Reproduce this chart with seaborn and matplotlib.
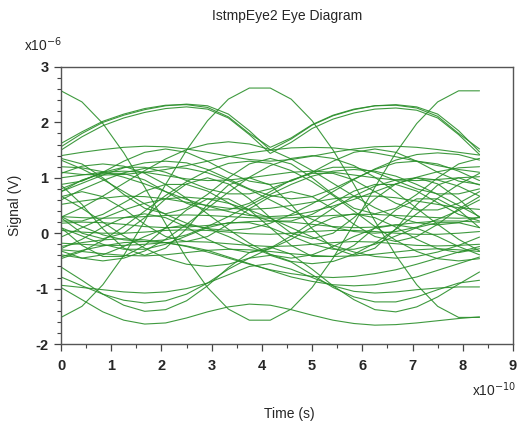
import matplotlib
matplotlib.use("Agg")
import matplotlib.pyplot as plt
import seaborn as sns
import pandas as pd

# time axis (units of 1e-10 s)
time = [0.0, 0.417, 0.833, 1.25, 1.667, 2.083, 2.5, 2.917, 3.333, 3.75, 4.167,
        4.583, 5.0, 5.417, 5.833, 6.25, 6.667, 7.083, 7.5, 7.917, 8.333]

# traces (units of 1e-6 V)
T1 = [2.57, 2.37, 1.98, 1.45, 0.83, 0.17, -0.45, -0.98, -1.37, -1.57, -1.57, -1.37, -0.98, -0.45, 0.17, 0.83, 1.45, 1.98, 2.37, 2.57, 2.57]
T2 = [-1.52, -1.32, -0.93, -0.40, 0.22, 0.88, 1.50, 2.03, 2.42, 2.62, 2.62, 2.42, 2.03, 1.50, 0.88, 0.22, -0.40, -0.93, -1.32, -1.52, -1.52]
B1 = [1.56, 1.80, 2.00, 2.13, 2.23, 2.30, 2.33, 2.30, 2.15, 1.85, 1.50, 1.70, 1.95, 2.12, 2.23, 2.30, 2.32, 2.28, 2.15, 1.85, 1.47]
B2 = [1.50, 1.74, 1.94, 2.08, 2.18, 2.25, 2.28, 2.24, 2.08, 1.78, 1.44, 1.64, 1.89, 2.06, 2.17, 2.24, 2.26, 2.22, 2.08, 1.78, 1.42]
B3 = [1.62, 1.83, 2.02, 2.15, 2.25, 2.31, 2.32, 2.27, 2.10, 1.80, 1.55, 1.72, 1.96, 2.13, 2.24, 2.30, 2.31, 2.26, 2.11, 1.80, 1.52]
C1 = [1.40, 1.46, 1.51, 1.55, 1.57, 1.56, 1.52, 1.46, 1.39, 1.33, 1.30, 1.33, 1.39, 1.46, 1.52, 1.56, 1.57, 1.55, 1.51, 1.46, 1.41]
C2 = [0.88, 0.94, 1.10, 1.30, 1.46, 1.52, 1.46, 1.30, 1.10, 0.94, 0.88, 0.94, 1.10, 1.30, 1.46, 1.52, 1.46, 1.30, 1.10, 0.94, 0.88]
C3 = [0.29, 0.46, 0.67, 0.90, 1.13, 1.34, 1.51, 1.61, 1.65, 1.61, 1.51, 1.34, 1.13, 0.90, 0.67, 0.46, 0.29, 0.19, 0.15, 0.19, 0.29]
C4 = [1.32, 1.16, 0.97, 0.75, 0.53, 0.34, 0.18, 0.08, 0.05, 0.08, 0.18, 0.34, 0.53, 0.75, 0.97, 1.16, 1.32, 1.42, 1.45, 1.42, 1.32]
L1 = [-0.98, -1.20, -1.42, -1.57, -1.64, -1.62, -1.53, -1.42, -1.33, -1.28, -1.30, -1.38, -1.48, -1.57, -1.63, -1.66, -1.65, -1.62, -1.58, -1.54, -1.51]
L2 = [-0.61, -0.85, -1.10, -1.30, -1.41, -1.38, -1.22, -0.95, -0.62, -0.35, -0.25, -0.38, -0.65, -0.95, -1.20, -1.38, -1.42, -1.33, -1.15, -0.92, -0.70]
L3 = [-0.79, -0.95, -1.10, -1.21, -1.26, -1.22, -1.10, -0.90, -0.65, -0.45, -0.40, -0.52, -0.75, -0.98, -1.15, -1.24, -1.24, -1.15, -1.02, -0.90, -0.85]
L4 = [-0.94, -0.98, -1.02, -1.06, -1.08, -1.06, -1.00, -0.90, -0.75, -0.60, -0.55, -0.65, -0.80, -0.95, -1.05, -1.08, -1.06, -1.02, -0.99, -0.97, -0.97]
Ma = [1.00, 1.05, 1.10, 1.12, 1.10, 1.04, 0.98, 0.95, 0.96, 1.00, 1.05, 1.10, 1.12, 1.10, 1.05, 1.00, 0.96, 0.95, 0.97, 1.00, 1.02]
Mb = [0.75, 0.90, 1.05, 1.18, 1.27, 1.30, 1.27, 1.15, 0.98, 0.80, 0.68, 0.62, 0.66, 0.80, 0.98, 1.15, 1.27, 1.30, 1.25, 1.12, 0.95]
Mc = [-0.32, -0.45, -0.50, -0.45, -0.32, -0.11, 0.16, 0.45, 0.74, 1.01, 1.22, 1.35, 1.40, 1.35, 1.22, 1.01, 0.74, 0.45, 0.16, -0.11, -0.32]
Md = [1.08, 1.21, 1.25, 1.21, 1.08, 0.88, 0.63, 0.35, 0.07, -0.18, -0.38, -0.51, -0.55, -0.51, -0.38, -0.18, 0.07, 0.35, 0.63, 0.88, 1.08]
Me = [0.66, 0.75, 0.66, 0.44, 0.16, -0.06, -0.15, -0.06, 0.16, 0.44, 0.66, 0.75, 0.66, 0.44, 0.16, -0.06, -0.15, -0.06, 0.16, 0.44, 0.66]
Mf = [0.28, 0.00, -0.10, 0.00, 0.28, 0.62, 0.89, 1.00, 0.89, 0.62, 0.28, 0.00, -0.10, 0.00, 0.28, 0.62, 0.89, 1.00, 0.89, 0.62, 0.28]
Mg = [-0.18, -0.20, -0.22, -0.22, -0.20, -0.17, -0.15, -0.16, -0.19, -0.22, -0.24, -0.23, -0.20, -0.17, -0.15, -0.16, -0.19, -0.22, -0.23, -0.22, -0.20]
Mh = [-0.30, -0.33, -0.37, -0.40, -0.41, -0.39, -0.35, -0.31, -0.29, -0.30, -0.33, -0.37, -0.40, -0.42, -0.41, -0.38, -0.34, -0.30, -0.28, -0.30, -0.33]
Mi = [-0.28, -0.11, 0.11, 0.28, 0.35, 0.28, 0.11, -0.11, -0.28, -0.35, -0.28, -0.11, 0.11, 0.28, 0.35, 0.28, 0.11, -0.11, -0.28, -0.35, -0.28]
Mj = [0.67, 0.45, 0.20, -0.05, -0.27, -0.45, -0.56, -0.60, -0.56, -0.45, -0.27, -0.05, 0.20, 0.45, 0.67, 0.85, 0.96, 1.00, 0.96, 0.85, 0.67]
Mk = [0.52, 0.58, 0.63, 0.67, 0.66, 0.62, 0.56, 0.50, 0.45, 0.43, 0.45, 0.50, 0.56, 0.62, 0.66, 0.67, 0.64, 0.58, 0.52, 0.46, 0.43]
Ml = [0.87, 0.52, 0.08, -0.27, -0.40, -0.27, 0.08, 0.52, 0.87, 1.00, 0.87, 0.52, 0.08, -0.27, -0.40, -0.27, 0.08, 0.52, 0.87, 1.00, 0.87]
Mm = [0.75, 0.96, 1.08, 1.08, 0.96, 0.75, 0.54, 0.42, 0.42, 0.54, 0.75, 0.96, 1.08, 1.08, 0.96, 0.75, 0.54, 0.42, 0.42, 0.54, 0.75]
Mn = [0.10, -0.22, -0.42, -0.42, -0.22, 0.10, 0.42, 0.62, 0.62, 0.42, 0.10, -0.22, -0.42, -0.42, -0.22, 0.10, 0.42, 0.62, 0.62, 0.42, 0.10]
Mo = [0.60, 0.79, 0.95, 1.09, 1.17, 1.20, 1.17, 1.09, 0.95, 0.79, 0.60, 0.41, 0.25, 0.11, 0.03, 0.00, 0.03, 0.11, 0.25, 0.41, 0.60]
Mp = [0.05, 0.02, 0.00, 0.00, 0.02, 0.05, 0.06, 0.05, 0.02, -0.01, -0.02, 0.00, 0.03, 0.05, 0.05, 0.03, 0.00, -0.02, -0.02, 0.00, 0.03]
Mq = [0.30, 0.28, 0.27, 0.28, 0.30, 0.32, 0.33, 0.32, 0.30, 0.28, 0.27, 0.28, 0.30, 0.32, 0.34, 0.34, 0.32, 0.30, 0.28, 0.27, 0.28]
Mr = [-0.39, -0.45, -0.39, -0.24, -0.06, 0.09, 0.15, 0.09, -0.06, -0.24, -0.39, -0.45, -0.39, -0.24, -0.06, 0.09, 0.15, 0.09, -0.06, -0.24, -0.39]
Ms = [-0.24, -0.17, -0.12, -0.10, -0.12, -0.17, -0.24, -0.34, -0.45, -0.56, -0.66, -0.73, -0.78, -0.80, -0.78, -0.73, -0.66, -0.56, -0.45, -0.34, -0.24]
Mt = [1.35, 1.25, 1.00, 0.70, 0.45, 0.35, 0.45, 0.70, 1.00, 1.25, 1.35, 1.25, 1.00, 0.70, 0.45, 0.35, 0.45, 0.70, 1.00, 1.25, 1.35]
N1 = [0.30, 0.12, -0.03, -0.12, -0.15, -0.12, -0.03, 0.12, 0.30, 0.50, 0.70, 0.88, 1.03, 1.12, 1.15, 1.12, 1.03, 0.88, 0.70, 0.50, 0.30]
N2 = [0.80, 0.95, 1.10, 1.19, 1.19, 1.10, 0.95, 0.80, 0.71, 0.71, 0.80, 0.95, 1.10, 1.19, 1.19, 1.10, 0.95, 0.80, 0.71, 0.71, 0.80]
N3 = [-0.07, 0.10, 0.27, 0.42, 0.54, 0.62, 0.65, 0.62, 0.54, 0.42, 0.27, 0.10, -0.07, -0.22, -0.34, -0.42, -0.45, -0.42, -0.34, -0.22, -0.07]
N4 = [0.10, -0.05, -0.20, -0.29, -0.29, -0.20, -0.05, 0.10, 0.19, 0.19, 0.10, -0.05, -0.20, -0.29, -0.29, -0.20, -0.05, 0.10, 0.19, 0.19, 0.10]
N5 = [1.20, 1.18, 1.11, 1.01, 0.89, 0.75, 0.61, 0.49, 0.39, 0.32, 0.30, 0.32, 0.39, 0.49, 0.61, 0.75, 0.89, 1.01, 1.11, 1.18, 1.20]
N6 = [-0.46, -0.33, -0.13, 0.12, 0.40, 0.68, 0.93, 1.13, 1.26, 1.30, 1.26, 1.13, 0.93, 0.68, 0.40, 0.12, -0.13, -0.33, -0.46, -0.50, -0.46]
N7 = [0.18, 0.20, 0.19, 0.16, 0.12, 0.10, 0.11, 0.14, 0.18, 0.21, 0.22, 0.20, 0.16, 0.12, 0.10, 0.11, 0.15, 0.19, 0.22, 0.22, 0.20]
N8 = [0.22, 0.22, 0.34, 0.55, 0.76, 0.88, 0.88, 0.76, 0.55, 0.34, 0.22, 0.22, 0.34, 0.55, 0.76, 0.88, 0.88, 0.76, 0.55, 0.34, 0.22]
N9 = [-0.43, -0.31, -0.23, -0.17, -0.15, -0.17, -0.23, -0.31, -0.43, -0.55, -0.67, -0.79, -0.87, -0.93, -0.95, -0.93, -0.87, -0.79, -0.67, -0.55, -0.43]
N10 = [1.10, 1.06, 1.05, 1.06, 1.10, 1.15, 1.22, 1.30, 1.38, 1.45, 1.50, 1.54, 1.55, 1.54, 1.50, 1.45, 1.38, 1.30, 1.22, 1.15, 1.10]

traces = {"T1": T1, "T2": T2, "B1": B1, "B2": B2, "B3": B3,
          "C1": C1, "C2": C2, "C3": C3, "C4": C4,
          "L1": L1, "L2": L2, "L3": L3, "L4": L4,
          "Ma": Ma, "Mb": Mb, "Mc": Mc, "Md": Md, "Me": Me, "Mf": Mf,
          "Mg": Mg, "Mh": Mh, "Mi": Mi, "Mj": Mj, "Mk": Mk, "Ml": Ml,
          "Mm": Mm, "Mn": Mn, "Mo": Mo, "Mp": Mp, "Mq": Mq, "Mr": Mr,
          "Ms": Ms, "Mt": Mt, "N1": N1, "N2": N2, "N3": N3, "N4": N4,
          "N5": N5, "N6": N6, "N7": N7, "N8": N8, "N9": N9, "N10": N10}

x_ticks = [0, 1, 2, 3, 4, 5, 6, 7, 8, 9]
y_ticks = [-2, -1, 0, 1, 2, 3]

rows = []
for name, vals in traces.items():
    for t, v in zip(time, vals):
        rows.append({"trace": name, "time": t, "signal": v})
df = pd.DataFrame(rows)

sns.set_style("white")
plt.rcParams["font.family"] = ["Liberation Sans", "DejaVu Sans"]
plt.rcParams["axes.unicode_minus"] = False

fig = plt.figure(figsize=(5.19, 4.25), dpi=100)
ax = fig.add_axes([61 / 519, 1 - 344 / 425, (513 - 61) / 519, (344 - 67) / 425])

sns.lineplot(data=df, x="time", y="signal", units="trace", estimator=None,
             color="#2a8f2a", linewidth=0.8, alpha=0.9, ax=ax, legend=False)

ax.set_xlim(0, 9)
ax.set_ylim(-2, 3)
ax.set_xticks(x_ticks)
ax.set_yticks(y_ticks)
ax.set_xticks([i + 0.5 for i in range(9)], minor=True)
ax.set_yticks([y / 5 for y in range(-10, 15)], minor=True)
ax.tick_params(axis="both", which="major", direction="out", length=5, width=0.9,
               color="#444444", labelsize=10.5)
ax.tick_params(axis="x", which="major", pad=6)
ax.tick_params(axis="y", which="major", pad=4)
ax.tick_params(axis="both", which="minor", direction="out", length=3, width=0.8,
               color="#444444")
ax.tick_params(axis="y", which="both", left=True)
ax.tick_params(axis="x", which="both", bottom=True)
for lab in ax.get_xticklabels() + ax.get_yticklabels():
    lab.set_fontweight("bold")
for sp in ax.spines.values():
    sp.set_color("#555555")
    sp.set_linewidth(1.0)
ax.set_xlabel("")
ax.set_ylabel("")

fig.text(287 / 519, 1 - 16 / 425, "IstmpEye2 Eye Diagram", ha="center", va="center", fontsize=10)
fig.text(24 / 519, 1 - 45 / 425, r"x10$^{-6}$", ha="left", va="center", fontsize=10)
fig.text(472 / 519, 1 - 390 / 425, r"x10$^{-10}$", ha="left", va="center", fontsize=10)
fig.text(289 / 519, 1 - 414 / 425, "Time (s)", ha="center", va="center", fontsize=10)
fig.text(15 / 519, 1 - 205 / 425, "Signal (V)", ha="center", va="center", fontsize=10, rotation=90)

fig.savefig("out.png", dpi=100)
